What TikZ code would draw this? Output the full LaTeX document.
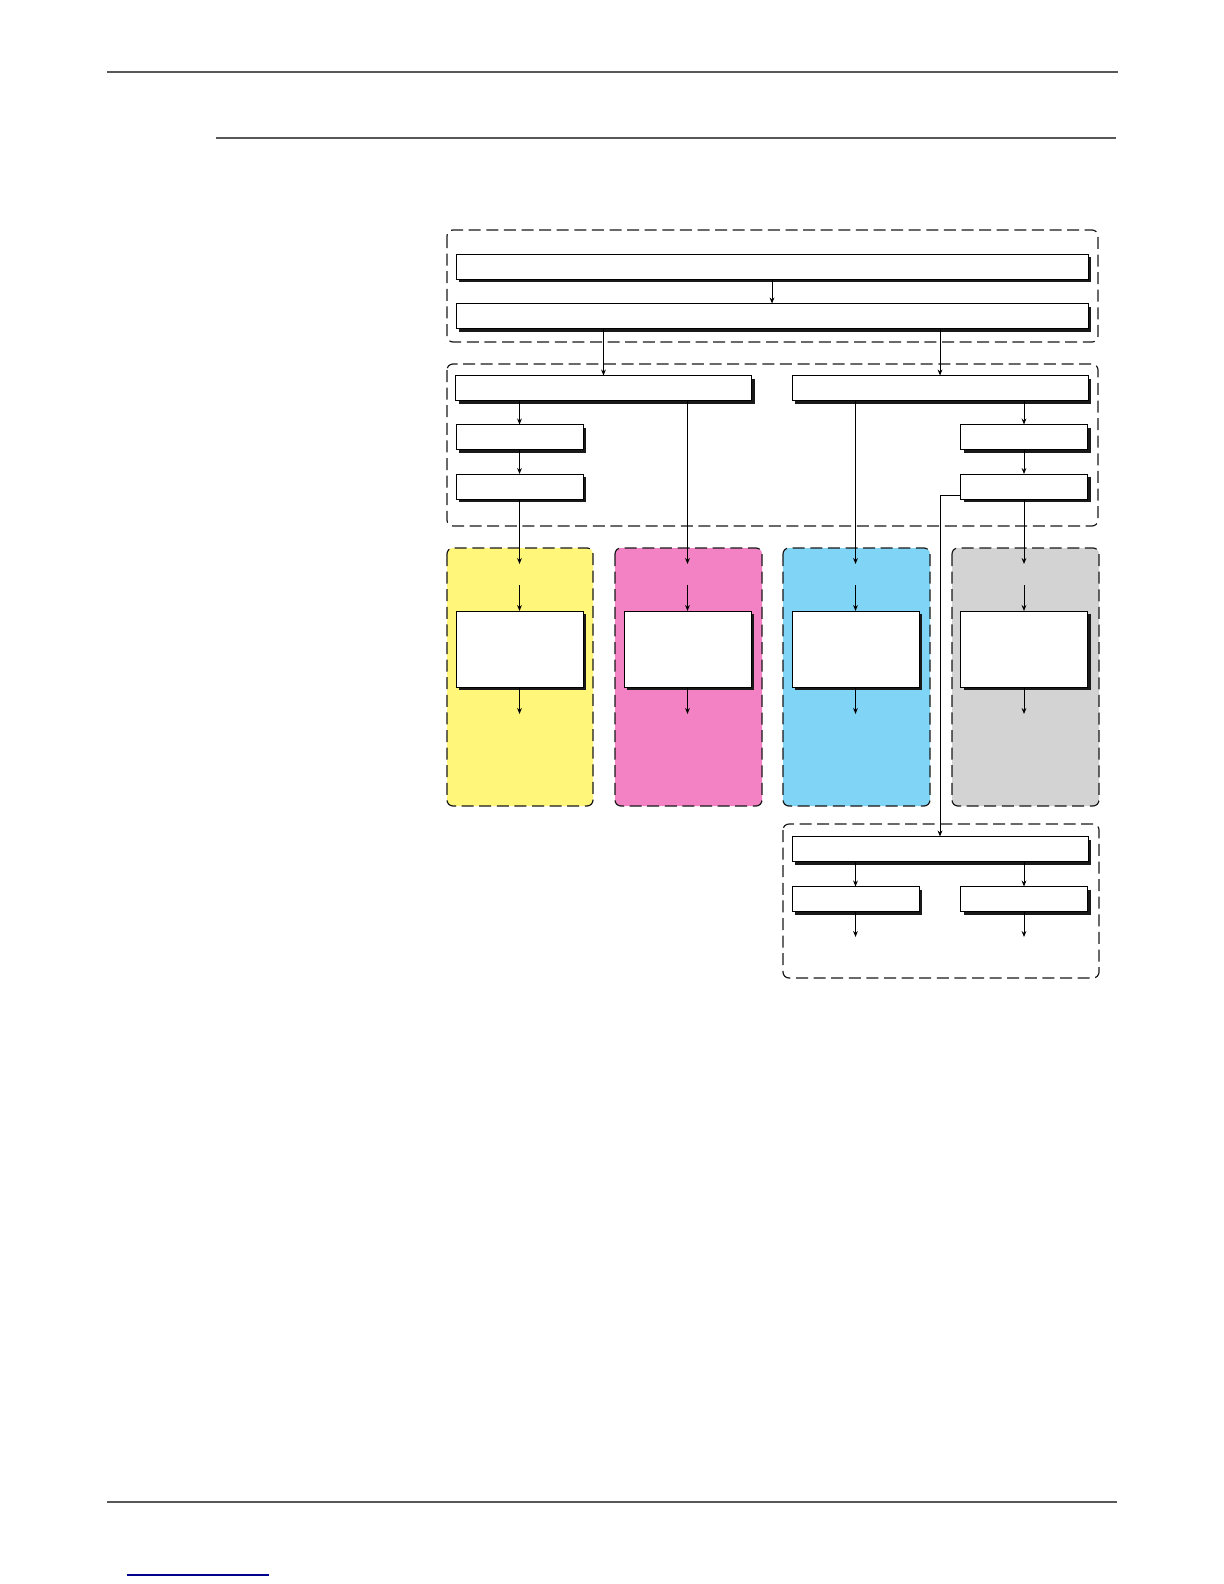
\documentclass[tikz,border=0pt]{standalone}
\usepackage{tikz}
\usetikzlibrary{arrows.meta,shadows}
\definecolor{panelyellow}{RGB}{255,246,122}
\definecolor{panelpink}{RGB}{243,130,196}
\definecolor{panelblue}{RGB}{128,212,245}
\definecolor{panelgrey}{RGB}{211,211,211}
\definecolor{ruleGrey}{RGB}{88,88,88}
\tikzset{
  group box/.style={
    draw=black!90,
    line width=0.6pt,
    dash pattern=on 6pt off 2.8pt,
    rounded corners=3pt,
  },
  page rule/.style={
    draw=ruleGrey,
    line width=1.3pt,
  },
  block/.style={
    rectangle, draw=black, fill=white,
    line width=0.5pt,
    inner sep=0pt, outer sep=0pt,
    minimum height=12.5pt,
    drop shadow={shadow xshift=1.7pt, shadow yshift=-1.7pt, fill=black!90, opacity=1},
  },
  wide/.style={minimum width=316pt},
  half/.style={minimum width=148pt},
  small/.style={minimum width=63.5pt},
  tall/.style={minimum width=63.5pt, minimum height=38pt}
}

\begin{document}
\begin{tikzpicture}[x=0.5pt,y=-0.5pt]
        \useasboundingbox (0,0) rectangle (1224,1584);
        \fill[white] (0,0) rectangle (1224,1584);

        % page rules
        \draw[page rule] (107,72) -- (1118,72);
        \draw[page rule] (216,138) -- (1116,138);
        \draw[page rule] (107,1502) -- (1117,1502);
        \draw[blue!55!black, line width=0.6pt] (127,1575) -- (269,1575);

        % dashed groups and panels
        \draw[group box] (447,230) rectangle (1098,342);
        \draw[group box] (447,364) rectangle (1098,526);
        \draw[group box, fill=panelyellow] (447,548) rectangle (593,806);
        \draw[group box, fill=panelpink] (615,548) rectangle (762,806);
        \draw[group box, fill=panelblue] (783,548) rectangle (930,806);
        \draw[group box, fill=panelgrey] (952,548) rectangle (1099,806);
        \draw[group box] (783,824) rectangle (1099,978);

        \begin{scope}[every node/.style={block}]
            \node[wide] (T1) at (772, 266.5) {};
            \node[wide] (T2) at (772, 316) {};

            \node[half] (L) at (603.5, 388) {};
            \node[half] (R) at (940, 388) {};

            \node[small] (L1) at (519.5, 437) {};
            \node[small] (L2) at (519.5, 486.5) {};
            \node[small] (R1) at (1024, 437) {};
            \node[small] (R2) at (1024, 486.5) {};

            \node[tall] (Y) at (519.5, 649) {};
            \node[tall] (M) at (687.5, 649) {};
            \node[tall] (C) at (855.5, 649) {};
            \node[tall] (G) at (1024, 649) {};

            \node[half] (S) at (940, 849) {};
            \node[small] (S1) at (855.5, 899) {};
            \node[small] (S2) at (1024, 899) {};
        \end{scope}

        \coordinate (Ytip) at (519.5, 564);
        \coordinate (Mtip) at (687.5, 564);
        \coordinate (Ctip) at (855.5, 564);
        \coordinate (Gtip) at (1024, 564);

        \coordinate (Yin) at (519.5, 585);
        \coordinate (Min) at (687.5, 585);
        \coordinate (Cin) at (855.5, 585);
        \coordinate (Gin) at (1024, 585);

        \coordinate (Yout) at (519.5, 714);
        \coordinate (Mout) at (687.5, 714);
        \coordinate (Cout) at (855.5, 714);
        \coordinate (Gout) at (1024, 714);

        \coordinate (S1out) at (855.5, 937);
        \coordinate (S2out) at (1024, 937);

        \begin{scope}[>={Stealth[black,length=3pt,width=2.4pt]}, line width=0.5pt, every edge/.style={draw=black,line width=0.5pt}]
            \path [->] (T1) edge (T2);
            \path [->] (T2.south -| L) edge (L);
            \path [->] (T2.south -| R) edge (R);

            \path [->] (L.south -| L1) edge (L1);
            \path [->] (L1) edge (L2);
            \path [->] (L2) edge (Ytip);
            \path [->] (L.south -| M) edge (Mtip);

            \path [->] (R.south -| C) edge (Ctip);
            \path [->] (R.south -| R1) edge (R1);
            \path [->] (R1) edge (R2);
            \path [->] (R2) edge (Gtip);

            \path [->] (Yin) edge (Y);
            \path [->] (Min) edge (M);
            \path [->] (Cin) edge (C);
            \path [->] (Gin) edge (G);

            \path [->] (Y) edge (Yout);
            \path [->] (M) edge (Mout);
            \path [->] (C) edge (Cout);
            \path [->] (G) edge (Gout);

            \draw [->] ([yshift=-4.25pt]R2.west) -| (S);

            \path [->] (S.south -| S1) edge (S1);
            \path [->] (S.south -| S2) edge (S2);
            \path [->] (S1) edge (S1out);
            \path [->] (S2) edge (S2out);
        \end{scope}
    \end{tikzpicture}
\end{document}
